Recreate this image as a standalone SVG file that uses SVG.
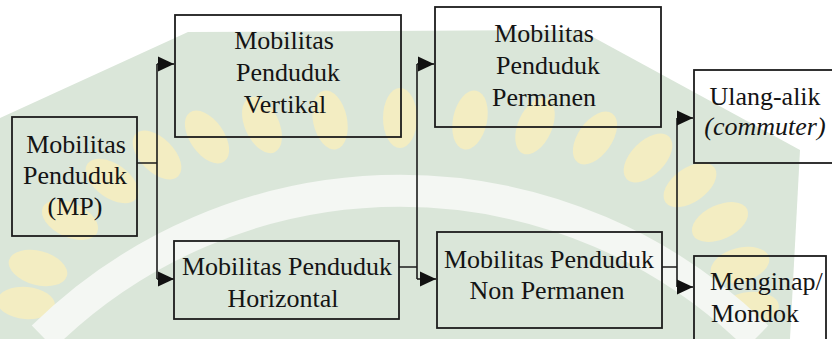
<svg xmlns="http://www.w3.org/2000/svg" width="832" height="339" viewBox="0 0 832 339">
<defs>
<style>
.box{fill:none;stroke:#1c1c1c;stroke-width:1.8}
.lbl{font-size:26px;fill:#141414;text-anchor:middle}
.it{font-style:italic}
.st{text-anchor:start}
.con{fill:none;stroke:#1c1c1c;stroke-width:1.6}
.leaf{fill:#f3edc2}
</style>
<marker id="arr" markerUnits="userSpaceOnUse" markerWidth="16" markerHeight="16" refX="16" refY="8" orient="auto">
<path d="M0,0.5 L16,8 L0,15.5 z" fill="#111"/>
</marker>
</defs>
<rect x="0" y="0" width="832" height="339" fill="#ffffff"/>
<g id="watermark">
<polygon points="0,118 188,32 580,30 800,150 790,339 0,339" fill="#dae6d9"/>
<g class="leaf">
<ellipse cx="26" cy="303" rx="16" ry="29" transform="rotate(-85 26 303)"/>
<ellipse cx="38" cy="268" rx="17" ry="30" transform="rotate(-75 38 268)"/>
<ellipse cx="70" cy="220" rx="17" ry="30" transform="rotate(-65 70 220)"/>
<ellipse cx="112" cy="181" rx="17" ry="30" transform="rotate(-55 112 181)"/>
<ellipse cx="157" cy="155" rx="17" ry="30" transform="rotate(-45 157 155)"/>
<ellipse cx="207" cy="137" rx="17" ry="30" transform="rotate(-35 207 137)"/>
<ellipse cx="262" cy="125" rx="17" ry="30" transform="rotate(-25 262 125)"/>
<ellipse cx="330" cy="120" rx="17" ry="30" transform="rotate(-12 330 120)"/>
<ellipse cx="400" cy="118" rx="17" ry="30"/>
<ellipse cx="470" cy="120" rx="17" ry="30" transform="rotate(12 470 120)"/>
<ellipse cx="535" cy="126" rx="17" ry="30" transform="rotate(24 535 126)"/>
<ellipse cx="595" cy="138" rx="17" ry="30" transform="rotate(35 595 138)"/>
<ellipse cx="648" cy="158" rx="17" ry="30" transform="rotate(45 648 158)"/>
<ellipse cx="690" cy="185" rx="17" ry="30" transform="rotate(55 690 185)"/>
<ellipse cx="720" cy="222" rx="17" ry="30" transform="rotate(65 720 222)"/>
<ellipse cx="740" cy="265" rx="17" ry="30" transform="rotate(75 740 265)"/>
<ellipse cx="750" cy="308" rx="16" ry="29" transform="rotate(85 750 308)"/>
</g>
<path d="M43,337 A509,509 0 0 1 757,337" fill="none" stroke="#f4f7f3" stroke-width="32"/>
</g>
<g id="connectors">
<path class="con" d="M137,163 H157 M157,64 V279 M399,267 H417 M417,64 V279 M662,267 H677 M677,118 V287"/>
<path class="con" d="M157,64 H174" marker-end="url(#arr)"/>
<path class="con" d="M157,279 H174" marker-end="url(#arr)"/>
<path class="con" d="M417,64 H434" marker-end="url(#arr)"/>
<path class="con" d="M417,279 H436" marker-end="url(#arr)"/>
<path class="con" d="M677,118 H693" marker-end="url(#arr)"/>
<path class="con" d="M677,287 H693" marker-end="url(#arr)"/>
</g>
<g font-family="Liberation Serif, Times New Roman, serif">
<g id="node-mp">
<rect class="box" x="12" y="117" width="125" height="119"/>
<text class="lbl" x="76" y="153">Mobilitas</text>
<text class="lbl" x="75" y="184">Penduduk</text>
<text class="lbl" x="75" y="215">(MP)</text>
</g>
<g id="node-vertikal">
<rect class="box" x="175" y="15" width="226" height="122"/>
<text class="lbl" x="284" y="49">Mobilitas</text>
<text class="lbl" x="288" y="81">Penduduk</text>
<text class="lbl" x="285" y="113">Vertikal</text>
</g>
<g id="node-horizontal">
<rect class="box" x="174" y="241" width="225" height="78"/>
<text class="lbl" x="287" y="275">Mobilitas Penduduk</text>
<text class="lbl" x="283" y="307">Horizontal</text>
</g>
<g id="node-permanen">
<rect class="box" x="435" y="7" width="226" height="120"/>
<text class="lbl" x="544" y="42">Mobilitas</text>
<text class="lbl" x="548" y="74">Penduduk</text>
<text class="lbl" x="544" y="106">Permanen</text>
</g>
<g id="node-nonpermanen">
<rect class="box" x="437" y="232" width="225" height="96"/>
<text class="lbl" x="549" y="268">Mobilitas Penduduk</text>
<text class="lbl" x="547" y="299">Non Permanen</text>
</g>
<g id="node-ulangalik">
<rect class="box" x="694" y="70" width="160" height="93"/>
<text class="lbl" x="765" y="105">Ulang-alik</text>
<text class="lbl it" x="765" y="135">(commuter)</text>
</g>
<g id="node-menginap">
<rect class="box" x="694" y="256" width="132" height="110"/>
<text class="lbl st" x="710" y="290">Menginap/</text>
<text class="lbl st" x="711" y="322">Mondok</text>
</g>
</g>
</svg>
